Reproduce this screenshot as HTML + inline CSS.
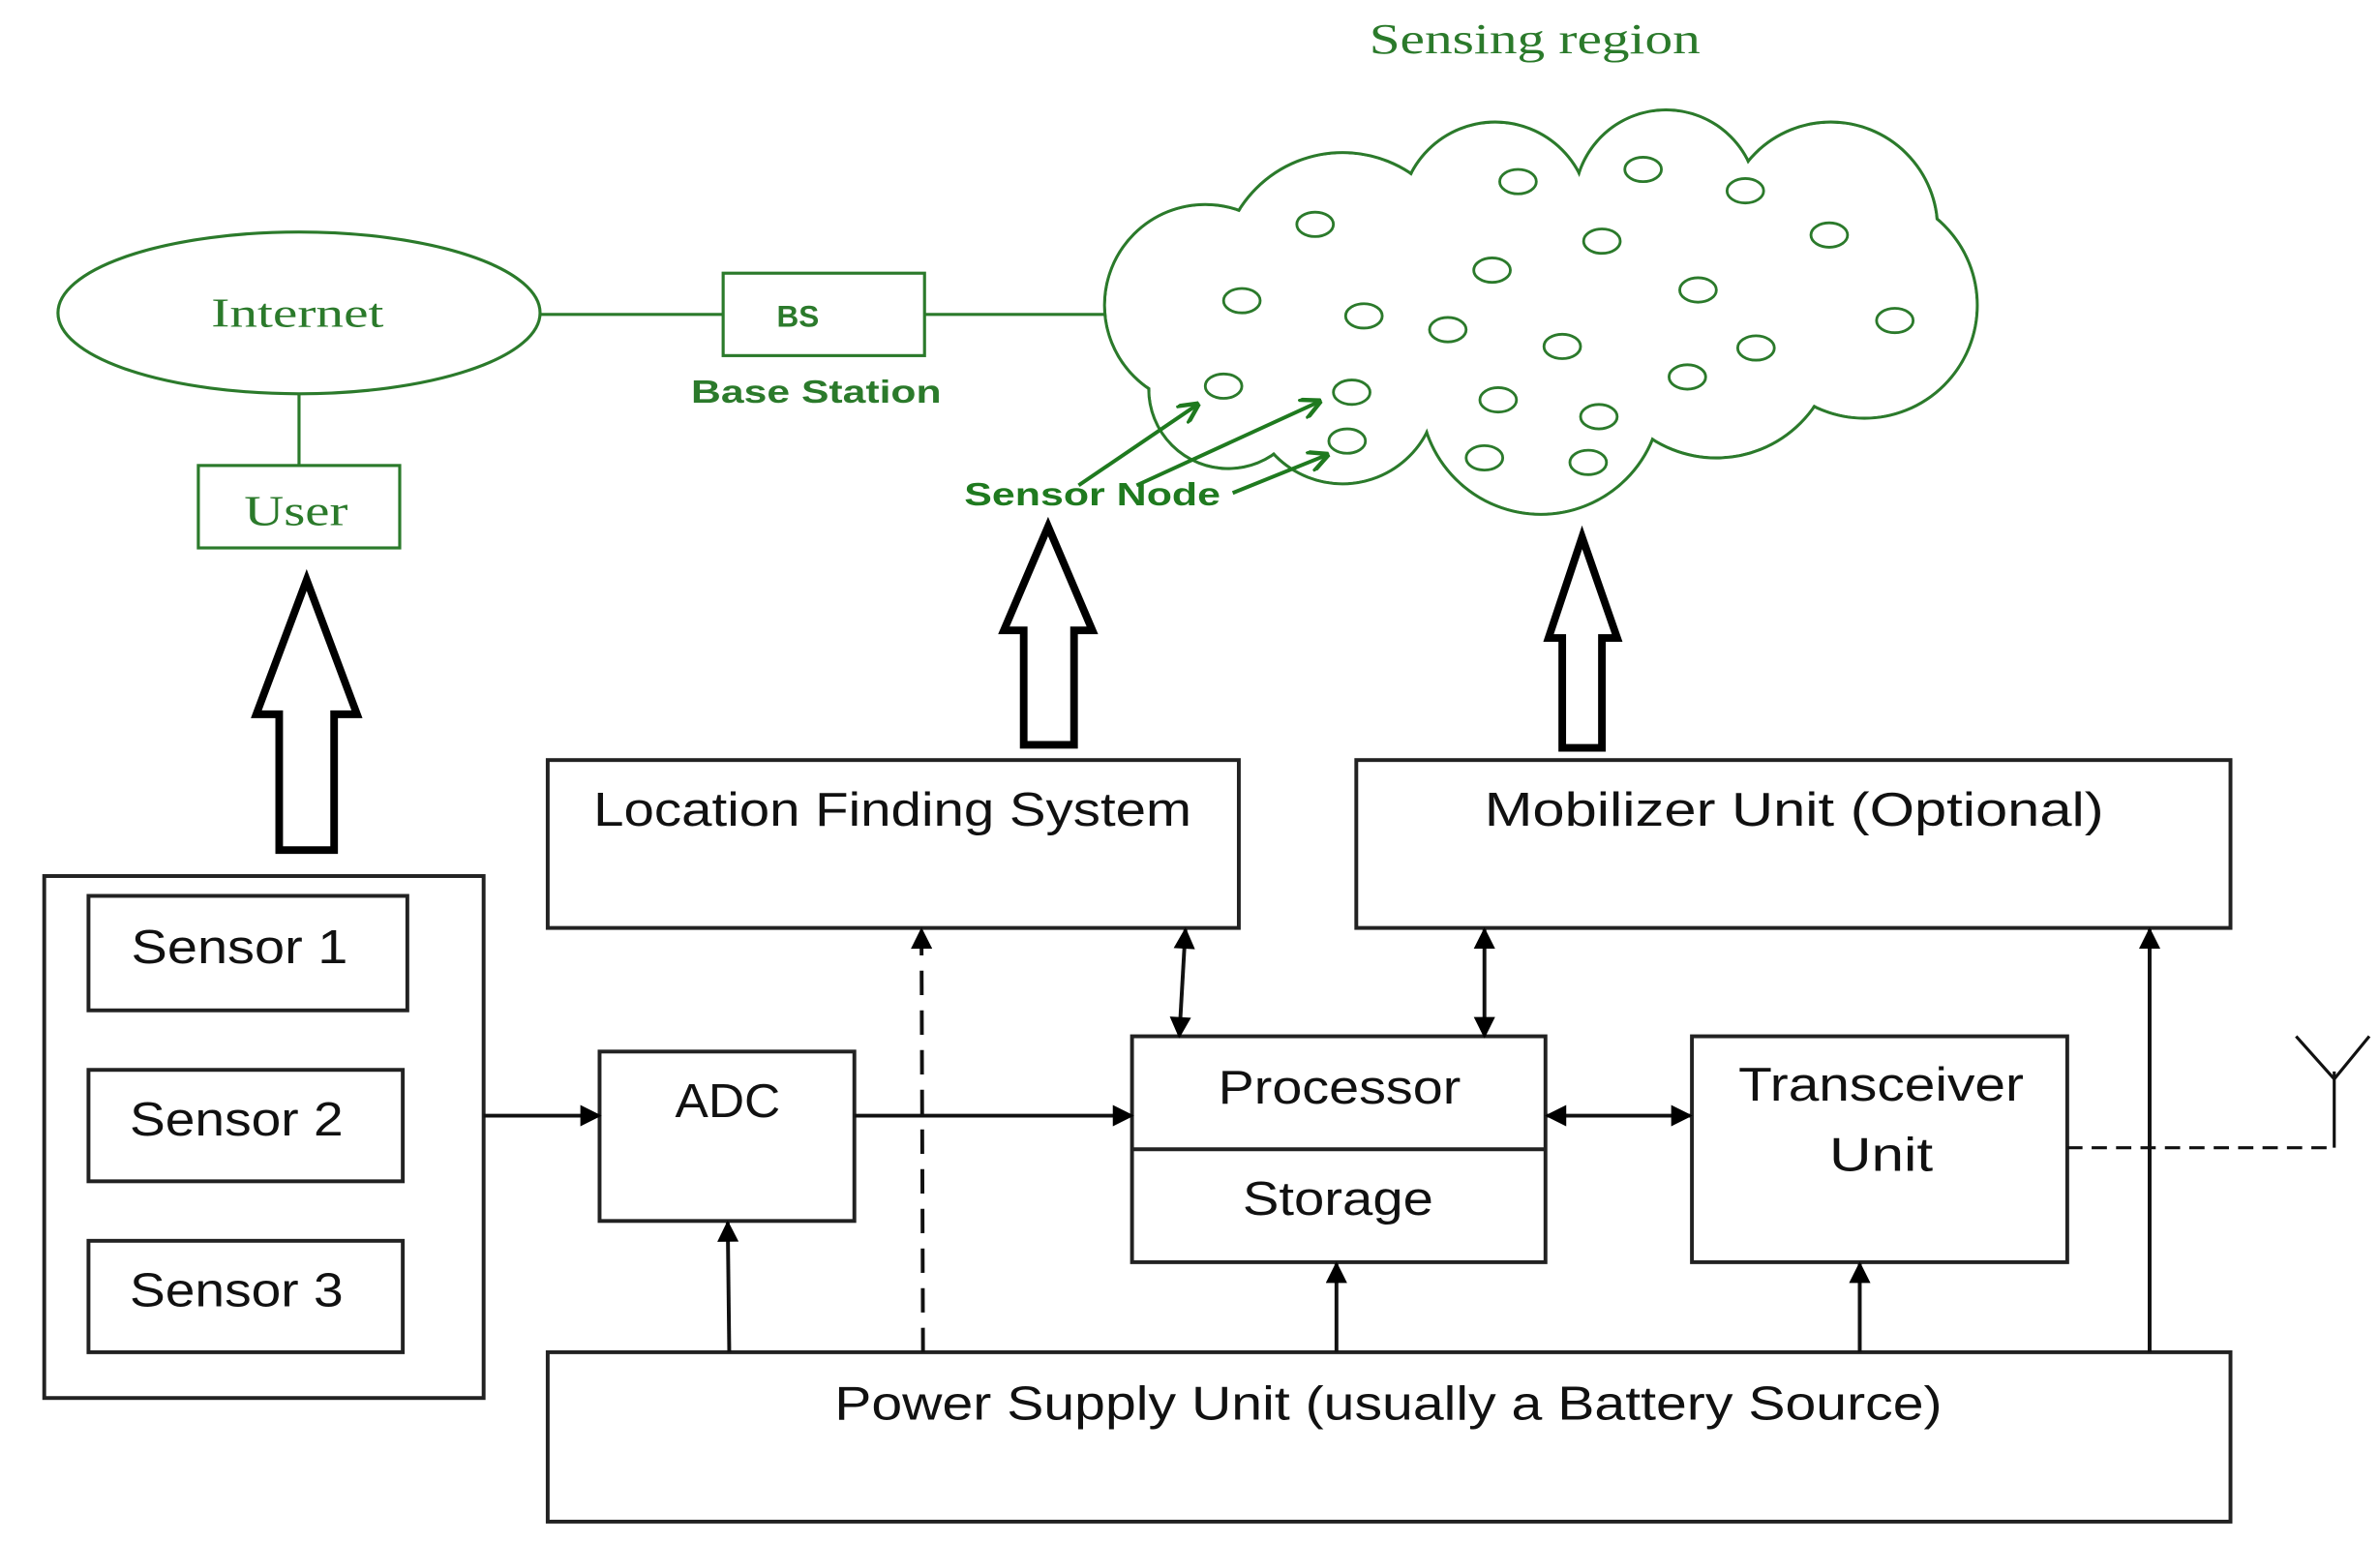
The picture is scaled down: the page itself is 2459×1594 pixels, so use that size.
<!DOCTYPE html>
<html><head><meta charset="utf-8"><style>html,body{margin:0;padding:0;background:#fff}svg{display:block}</style></head>
<body>
<svg width="2459" height="1594" viewBox="0 0 1560 1011" preserveAspectRatio="none" xmlns="http://www.w3.org/2000/svg">
<defs>
<marker id="ah" viewBox="0 0 10 10" refX="9" refY="5" markerWidth="16" markerHeight="14" markerUnits="userSpaceOnUse" orient="auto-start-reverse"><path d="M0,0 L10,5 L0,10 z" fill="#000"/></marker>
<marker id="ak" viewBox="0 0 10 10" refX="9" refY="5" markerWidth="14" markerHeight="14" markerUnits="userSpaceOnUse" orient="auto"><path d="M0,0 L10,5 L0,10" fill="none" stroke="#1f7a1f" stroke-width="2"/></marker>
</defs>
<g fill="none" stroke="#2b7a2b" stroke-width="2">
<text x="1006" y="35" font-family="Liberation Serif, serif" font-size="28" fill="#2b7a2b" stroke="none" text-anchor="middle" textLength="217" lengthAdjust="spacingAndGlyphs">Sensing region</text>
<ellipse cx="196" cy="205" rx="158" ry="53"/>
<text x="195" y="214" font-family="Liberation Serif, serif" font-size="27" fill="#2b7a2b" stroke="none" text-anchor="middle" textLength="113" lengthAdjust="spacingAndGlyphs">Internet</text>
<line x1="354" y1="206" x2="474" y2="206"/>
<rect x="474" y="179" width="132" height="54"/>
<text x="523" y="214" font-family="Liberation Sans, sans-serif" font-size="20" font-weight="bold" fill="#2b7a2b" stroke="none" text-anchor="middle">BS</text>
<line x1="606" y1="206" x2="726" y2="206"/>
<text x="535" y="264" font-family="Liberation Sans, sans-serif" font-size="21" font-weight="bold" fill="#2b7a2b" stroke="none" text-anchor="middle" textLength="164" lengthAdjust="spacingAndGlyphs">Base Station</text>
<line x1="196" y1="258" x2="196" y2="305"/>
<rect x="130" y="305" width="132" height="54"/>
<text x="194" y="344" font-family="Liberation Serif, serif" font-size="28" fill="#2b7a2b" stroke="none" text-anchor="middle" textLength="68" lengthAdjust="spacingAndGlyphs">User</text>
<g>
<circle cx="790" cy="200" r="66"/><circle cx="805" cy="255" r="52"/><circle cx="880" cy="255" r="62"/>
<circle cx="1010" cy="258" r="79"/><circle cx="1125" cy="222" r="78"/><circle cx="1222" cy="200" r="74"/>
<circle cx="1200" cy="150" r="70"/><circle cx="1092" cy="132" r="60"/><circle cx="980" cy="142" r="62"/><circle cx="880" cy="180" r="80"/>
<circle cx="1000" cy="200" r="90"/>
</g>
<g fill="#fff" stroke="none">
<circle cx="790" cy="200" r="65"/><circle cx="805" cy="255" r="51"/><circle cx="880" cy="255" r="61"/>
<circle cx="1010" cy="258" r="78"/><circle cx="1125" cy="222" r="77"/><circle cx="1222" cy="200" r="73"/>
<circle cx="1200" cy="150" r="69"/><circle cx="1092" cy="132" r="59"/><circle cx="980" cy="142" r="61"/><circle cx="880" cy="180" r="79"/>
<circle cx="1000" cy="200" r="89"/>
</g>
<g stroke-width="1.8">
<ellipse cx="862" cy="147" rx="12" ry="8"/><ellipse cx="995" cy="119" rx="12" ry="8"/><ellipse cx="1077" cy="111" rx="12" ry="8"/>
<ellipse cx="1144" cy="125" rx="12" ry="8"/><ellipse cx="1199" cy="154" rx="12" ry="8"/><ellipse cx="1050" cy="158" rx="12" ry="8"/>
<ellipse cx="978" cy="177" rx="12" ry="8"/><ellipse cx="814" cy="197" rx="12" ry="8"/><ellipse cx="894" cy="207" rx="12" ry="8"/>
<ellipse cx="949" cy="216" rx="12" ry="8"/><ellipse cx="1113" cy="190" rx="12" ry="8"/><ellipse cx="1242" cy="210" rx="12" ry="8"/>
<ellipse cx="1024" cy="227" rx="12" ry="8"/><ellipse cx="1151" cy="228" rx="12" ry="8"/><ellipse cx="1106" cy="247" rx="12" ry="8"/>
<ellipse cx="802" cy="253" rx="12" ry="8"/><ellipse cx="886" cy="257" rx="12" ry="8"/><ellipse cx="982" cy="262" rx="12" ry="8"/>
<ellipse cx="1048" cy="273" rx="12" ry="8"/><ellipse cx="883" cy="289" rx="12" ry="8"/><ellipse cx="973" cy="300" rx="12" ry="8"/>
<ellipse cx="1041" cy="303" rx="12" ry="8"/>
</g>
<g stroke="#1f7a1f" stroke-width="2.5">
<line x1="707" y1="318" x2="785" y2="265" marker-end="url(#ak)"/>
<line x1="745" y1="318" x2="865" y2="263" marker-end="url(#ak)"/>
<line x1="808" y1="323" x2="870" y2="298" marker-end="url(#ak)"/>
</g>
<text x="716" y="331" font-family="Liberation Sans, sans-serif" font-size="21" font-weight="bold" fill="#1f7a1f" stroke="none" text-anchor="middle" textLength="168" lengthAdjust="spacingAndGlyphs">Sensor Node</text>
</g>
<g fill="#fff" stroke="#000" stroke-width="5" stroke-linejoin="miter">
<path d="M201,380 L234,468 L219,468 L219,557 L183,557 L183,468 L168,468 Z"/>
<path d="M687,345 L716,413 L704,413 L704,488 L671,488 L671,413 L658,413 Z"/>
<path d="M1037,352 L1060,418 L1050,418 L1050,490 L1024,490 L1024,418 L1015,418 Z"/>
</g>
<g fill="none" stroke="#222" stroke-width="2.5">
<rect x="29" y="574" width="288" height="342"/>
<rect x="58" y="587" width="209" height="75"/>
<rect x="58" y="701" width="206" height="73"/>
<rect x="58" y="813" width="206" height="73"/>
<rect x="359" y="498" width="453" height="110"/>
<rect x="889" y="498" width="573" height="110"/>
<rect x="393" y="689" width="167" height="111"/>
<rect x="742" y="679" width="271" height="148"/>
<line x1="742" y1="753" x2="1013" y2="753"/>
<rect x="1109" y="679" width="246" height="148"/>
<rect x="359" y="886" width="1103" height="111"/>
</g>
<g fill="#111" font-family="Liberation Sans, sans-serif" font-size="31" text-anchor="middle" lengthAdjust="spacingAndGlyphs">
<text x="157" y="631" textLength="142" lengthAdjust="spacingAndGlyphs">Sensor 1</text>
<text x="155" y="744" textLength="140" lengthAdjust="spacingAndGlyphs">Sensor 2</text>
<text x="155" y="856" textLength="140" lengthAdjust="spacingAndGlyphs">Sensor 3</text>
<text x="585" y="541" textLength="392" lengthAdjust="spacingAndGlyphs">Location Finding System</text>
<text x="1176" y="541" textLength="406" lengthAdjust="spacingAndGlyphs">Mobilizer Unit (Optional)</text>
<text x="477" y="732" textLength="69" lengthAdjust="spacingAndGlyphs">ADC</text>
<text x="878" y="723" textLength="159" lengthAdjust="spacingAndGlyphs">Processor</text>
<text x="877" y="796" textLength="125" lengthAdjust="spacingAndGlyphs">Storage</text>
<text x="1233" y="721" textLength="187" lengthAdjust="spacingAndGlyphs">Transceiver</text>
<text x="1233" y="767" textLength="68" lengthAdjust="spacingAndGlyphs">Unit</text>
<text x="910" y="930" textLength="726" lengthAdjust="spacingAndGlyphs">Power Supply Unit (usually a Battery Source)</text>
</g>
<g fill="none" stroke="#111" stroke-width="2.5">
<line x1="317" y1="731" x2="393" y2="731" marker-end="url(#ah)"/>
<line x1="560" y1="731" x2="742" y2="731" marker-end="url(#ah)"/>
<line x1="478" y1="886" x2="477" y2="801" marker-end="url(#ah)"/>
<line x1="605" y1="886" x2="604" y2="609" stroke-dasharray="16,10" marker-end="url(#ah)"/>
<line x1="773" y1="679" x2="777" y2="609" marker-start="url(#ah)" marker-end="url(#ah)"/>
<line x1="973" y1="679" x2="973" y2="609" marker-start="url(#ah)" marker-end="url(#ah)"/>
<line x1="1014" y1="731" x2="1108" y2="731" marker-start="url(#ah)" marker-end="url(#ah)"/>
<line x1="876" y1="886" x2="876" y2="828" marker-end="url(#ah)"/>
<line x1="1219" y1="886" x2="1219" y2="828" marker-end="url(#ah)"/>
<line x1="1409" y1="886" x2="1409" y2="609" marker-end="url(#ah)"/>
<line x1="1355" y1="752" x2="1530" y2="752" stroke-dasharray="10,6" stroke-width="2"/>
<polyline points="1530,752 1530,702" stroke-width="2"/>
<polyline points="1505,679 1530,707 1553,679" stroke-width="2"/>
</g>
</svg>
</body></html>
